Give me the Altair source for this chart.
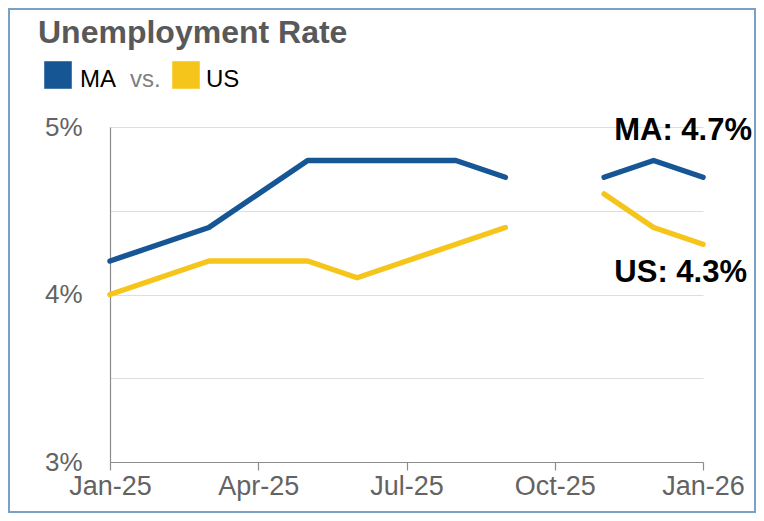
import altair as alt
import pandas as pd

months = ["Jan-25", "Feb-25", "Mar-25", "Apr-25", "May-25", "Jun-25", "Jul-25",
          "Aug-25", "Sep-25", "Oct-25", "Nov-25", "Dec-25", "Jan-26"]
ma_rate = [4.2, 4.3, 4.4, 4.6, 4.8, 4.8, 4.8, 4.8, 4.7, None, 4.7, 4.8, 4.7]
us_rate = [4.0, 4.1, 4.2, 4.2, 4.2, 4.1, 4.2, 4.3, 4.4, None, 4.6, 4.4, 4.3]
series_names = ["MA", "US"]
series_colors = ["#175694", "#F6C51C"]
tick_labels = ["Jan-25", "Apr-25", "Jul-25", "Oct-25", "Jan-26"]
y_ticks = [3.0, 3.5, 4.0, 4.5, 5.0]

rows = []
for name, vals in zip(series_names, [ma_rate, us_rate]):
    seg = 0
    for i, (m, v) in enumerate(zip(months, vals)):
        if v is None:
            seg += 1
            continue
        rows.append({"idx": i, "month": m, "series": name, "rate": v, "seg": f"{name}-{seg}"})
df = pd.DataFrame(rows)
last = df[df["idx"] == len(months) - 1].copy()
last["label"] = last["series"] + ": " + last["rate"].map(lambda v: f"{v:.1f}%")

FONT = "Liberation Sans"
tick_idx = [months.index(t) for t in tick_labels]
label_expr = "{" + ",".join(f"'{i}':'{t}'" for i, t in zip(tick_idx, tick_labels)) + "}[''+datum.value]"

x = alt.X("idx:Q", scale=alt.Scale(domain=[0, len(months) - 1], nice=False, zero=False),
          axis=alt.Axis(values=tick_idx, labelExpr=label_expr, labelFlush=False, labelOverlap=False,
                        title=None, grid=False, domainColor="#8c8c8c", domainWidth=1.2,
                        tickColor="#8c8c8c", tickSize=8, tickWidth=1.2,
                        labelFontSize=27, labelColor="#636363", labelFont=FONT, labelPadding=3))
y = alt.Y("rate:Q", scale=alt.Scale(domain=[3, 5], nice=False, zero=False),
          axis=alt.Axis(values=y_ticks, labelExpr="datum.value % 1 == 0 ? format(datum.value, 'd') + '%' : ''",
                        title=None, grid=True, gridColor="#dedede", gridWidth=1,
                        domainColor="#8c8c8c", domainWidth=1.2, ticks=False, labelFlush=False,
                        labelFontSize=26, labelColor="#636363", labelFont=FONT, labelPadding=28))
color = alt.Color("series:N", scale=alt.Scale(domain=series_names, range=series_colors), legend=None)

lines = alt.Chart(df).mark_line(strokeWidth=5.5, strokeCap="round", strokeJoin="round").encode(
    x=x, y=y, color=color, detail="seg:N")

def end_label(name, dx, dy):
    return alt.Chart(last).transform_filter(alt.datum.series == name).mark_text(
        align="right", baseline="alphabetic", fontSize=31, fontWeight="bold", font=FONT,
        color="black", dx=dx, dy=dy
    ).encode(x="idx:Q", y="rate:Q", text="label:N")

leg_df = pd.DataFrame({"series": series_names, "color": series_colors})

def leg_item(name, sx, tx):
    sq = alt.Chart(leg_df).transform_filter(alt.datum.series == name).mark_square(
        size=760, opacity=1, strokeWidth=0).encode(
        x=alt.value(sx), y=alt.value(-52), fill=alt.Fill("color:N", scale=None))
    tt = alt.Chart(leg_df).transform_filter(alt.datum.series == name).mark_text(
        align="left", baseline="alphabetic", fontSize=24, font=FONT, color="black").encode(
        x=alt.value(tx), y=alt.value(-40), text="series:N")
    return sq + tt

vs_txt = alt.Chart(pd.DataFrame({"t": ["vs."]})).mark_text(
    align="left", baseline="alphabetic", fontSize=24, font=FONT, color="#7f7f7f").encode(
    x=alt.value(20), y=alt.value(-40), text="t:N")
title_txt = alt.Chart(pd.DataFrame({"t": ["Unemployment Rate"]})).mark_text(
    align="left", baseline="alphabetic", fontSize=32, fontWeight="bold", font=FONT, color="#595959").encode(
    x=alt.value(-72), y=alt.value(-84), text="t:N")
border = alt.Chart(pd.DataFrame({"a": [0]})).mark_rect(fill="transparent", stroke="#7aa0c6", strokeWidth=2).encode(
    x=alt.value(-101), x2=alt.value(645), y=alt.value(-118), y2=alt.value(385))

chart = alt.layer(border, lines, end_label("MA", 49, -37), end_label("US", 44, 38),
                  leg_item("MA", -52, -30), leg_item("US", 76, 96), vs_txt, title_txt).properties(
    width=593, height=335,
    autosize=alt.AutoSizeParams(type="none"),
    padding={"left": 102, "top": 119, "right": 53, "bottom": 51},
    background="white",
).configure_view(stroke=None)

chart.save("out.html", embed_options={"renderer": "svg", "actions": False})
